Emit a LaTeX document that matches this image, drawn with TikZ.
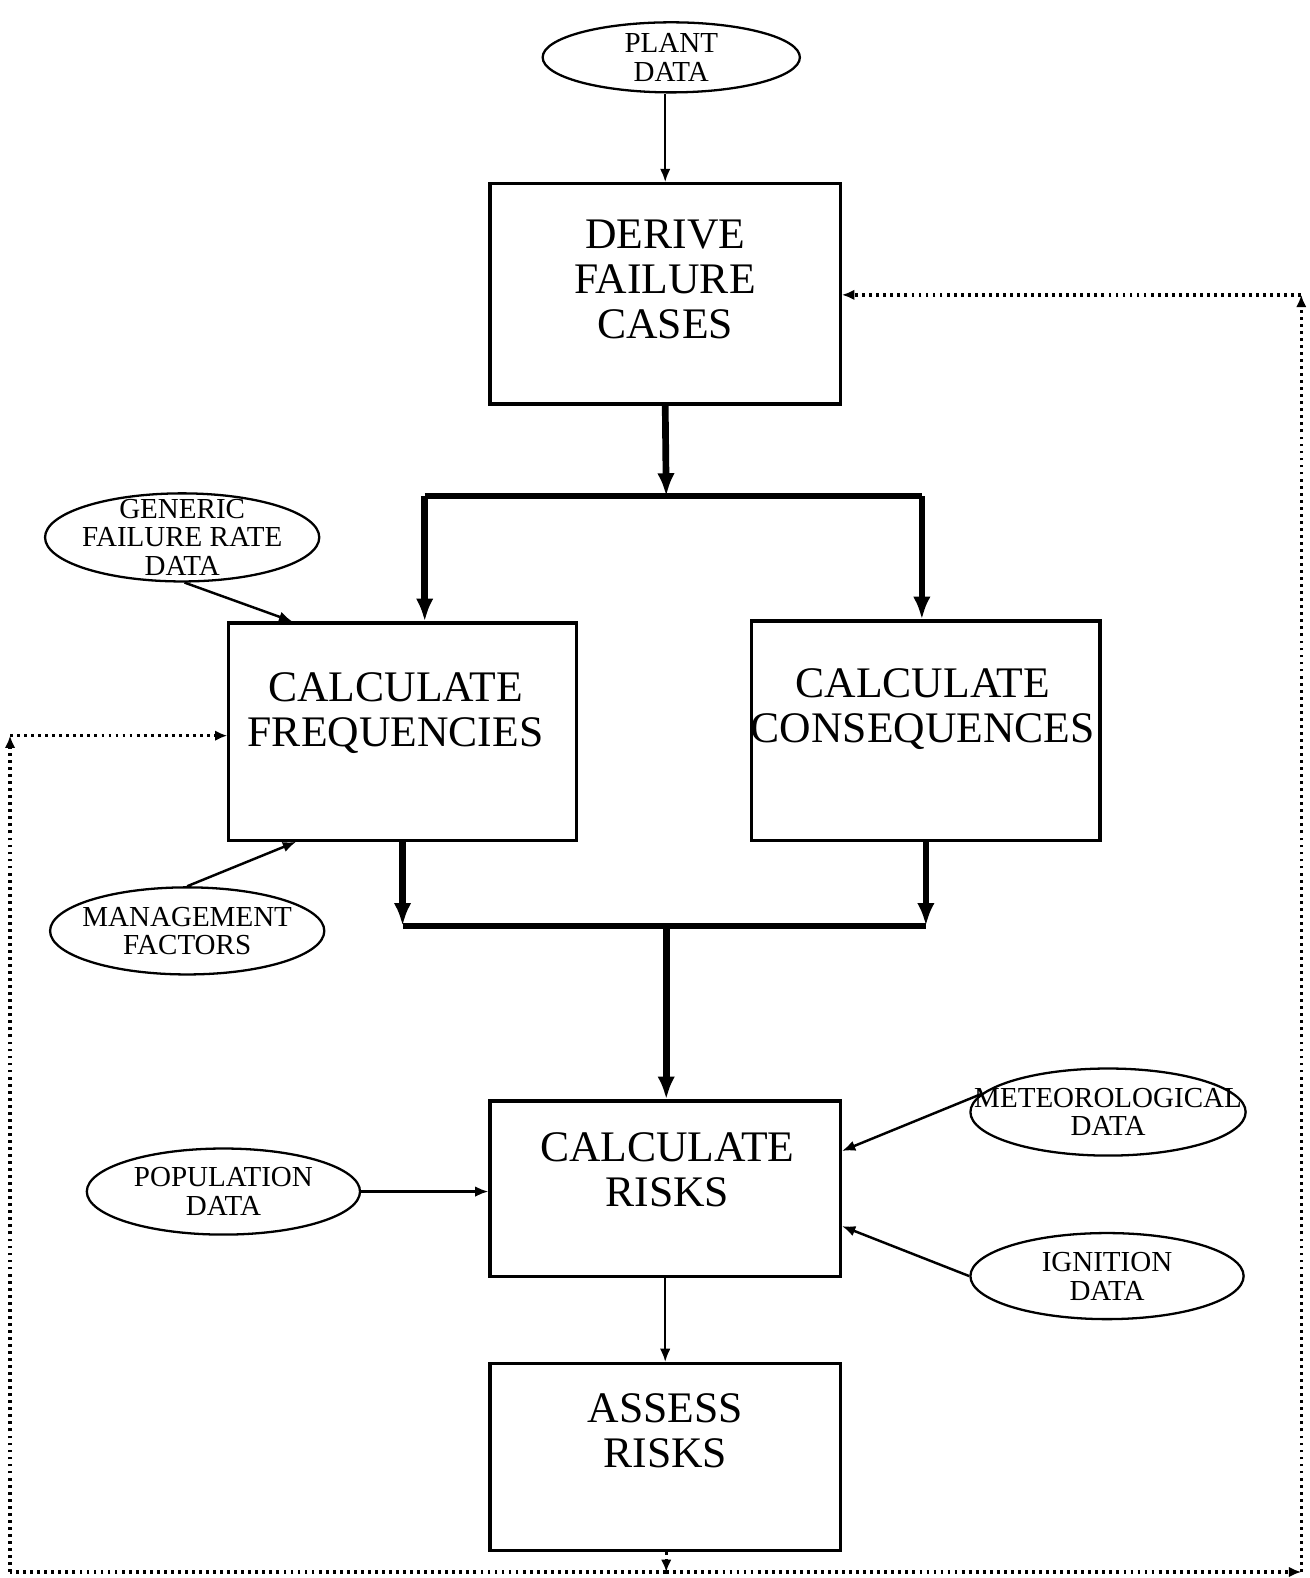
\documentclass[tikz,border=0pt]{standalone}
\usepackage{fontspec}
\setmainfont{Liberation Serif}
\usetikzlibrary{positioning, arrows.meta, shapes.geometric}

\tikzset{
  procbox/.style={draw, rectangle, line width=0.9pt, minimum width=3.5cm, inner sep=0},
  boxtext/.style={align=center, inner sep=0, font=\fontsize{12.4}{12.8}\selectfont},
  dataell/.style={draw, ellipse, line width=0.65pt, inner sep=0},
  elltext/.style={align=center, inner sep=0, font=\fontsize{8.25}{8.15}\selectfont},
  thinarrow/.style={line width=0.7pt, -{Latex[length=3.8pt,width=3pt]}},
  bigarrow/.style={line width=1.9pt, -{Latex[length=6.5pt,width=5pt]}},
  bigline/.style={line width=1.9pt},
  loopline/.style={line width=0.95pt, dash pattern=on 0.8pt off 1.2pt},
  looparrow/.style={loopline, -{Latex[length=3.5pt,width=3pt]}}
}

\begin{document}
\begin{tikzpicture}[x=0.01006cm, y=-0.01006cm]
\useasboundingbox (0,0) rectangle (1301,1568);

% process boxes
\node[procbox, minimum height=2.2cm] (derive) at (661,292) {};
\node[procbox, minimum width=3.47cm, minimum height=2.17cm] (freq) at (400,727) {};
\node[procbox, minimum width=3.48cm, minimum height=2.19cm] (cons) at (920,726) {};
\node[procbox, minimum height=1.75cm] (risks) at (661,1181) {};
\node[procbox, minimum height=1.87cm] (assess) at (661,1448) {};

\node[boxtext] (derive-t) at (661,278) {DERIVE\\FAILURE\\CASES};
\node[boxtext] (freq-t) at (393,709) {CALCULATE\\FREQUENCIES};
\node[boxtext] (cons-t) at (917,705) {CALCULATE\\CONSEQUENCES};
\node[boxtext] (risks-t) at (663,1162) {CALCULATE\\RISKS};
\node[boxtext] (assess-t) at (661,1422) {ASSESS\\RISKS};

% data inputs
\node[dataell, minimum width=2.57cm, minimum height=0.70cm] (plant) at (667,57) {};
\node[dataell, minimum width=2.74cm, minimum height=0.88cm] (gen) at (181,534) {};
\node[dataell, minimum width=2.74cm, minimum height=0.87cm] (mgt) at (186,925) {};
\node[dataell, minimum width=2.73cm, minimum height=0.86cm] (pop) at (222,1184) {};
\node[dataell, minimum width=2.75cm, minimum height=0.87cm] (met) at (1101,1105) {};
\node[dataell, minimum width=2.73cm, minimum height=0.86cm] (ign) at (1100,1268) {};

\node[elltext] (plant-t) at (plant) {PLANT\\DATA};
\node[elltext] (gen-t) at (gen) {GENERIC\\FAILURE RATE\\DATA};
\node[elltext] (mgt-t) at (mgt) {MANAGEMENT\\FACTORS};
\node[elltext] (pop-t) at (pop) {POPULATION\\DATA};
\node[elltext] (met-t) at (met) {METEOROLOGICAL\\DATA};
\node[elltext] (ign-t) at (ign) {IGNITION\\DATA};

% main flow
\coordinate (split) at (662,493);
\coordinate (b1) at (422,493);
\coordinate (b2) at (916,493);
\coordinate (m1) at (400,920);
\coordinate (m2) at (920,920);
\coordinate (m3) at (662,920);

\draw[thinarrow] (plant.south -| derive.north) -- (derive.north);
\draw[bigarrow] (derive.south) -- (split);
\draw[bigline] (b1) -- (b2);
\draw[bigarrow] (b1) -- (b1 |- freq.north);
\draw[bigarrow] (b2) -- (b2 |- cons.north);
\draw[bigarrow] (freq.south) -- (m1);
\draw[bigarrow] (cons.south) -- (m2);
\draw[bigline] (m1) -- (m2);
\draw[bigarrow] (m3) -- (m3 |- risks.north);
\draw[thinarrow] (risks.south) -- (assess.north);

% inputs to boxes
\draw[thinarrow] (gen.-87) -- (freq.135.5);
\draw[thinarrow] (mgt.north) -- (freq.226);
\draw[thinarrow] (pop.east) -- (pop.east -| risks.west);
\draw[thinarrow] (met.172) -- (risks.12);
\draw[thinarrow] (ign.west) -- (risks.-12);

% feedback loop
\coordinate (ab) at (662,1562);
\coordinate (lb) at (10,1562);
\coordinate (rb) at (1293,1562);
\coordinate (lt) at (10,731);
\coordinate (rt) at (1293,293);

\draw[looparrow] (assess.south -| ab) -- (ab);
\draw[looparrow] (ab) -- (rb);
\draw[looparrow] (rb) -- (rt);
\draw[looparrow] (rt) -- (rt -| derive.east);
\draw[loopline] (ab) -- (lb);
\draw[looparrow] (lb) -- (lt);
\draw[looparrow] (lt) -- (lt -| freq.west);
\end{tikzpicture}
\end{document}
